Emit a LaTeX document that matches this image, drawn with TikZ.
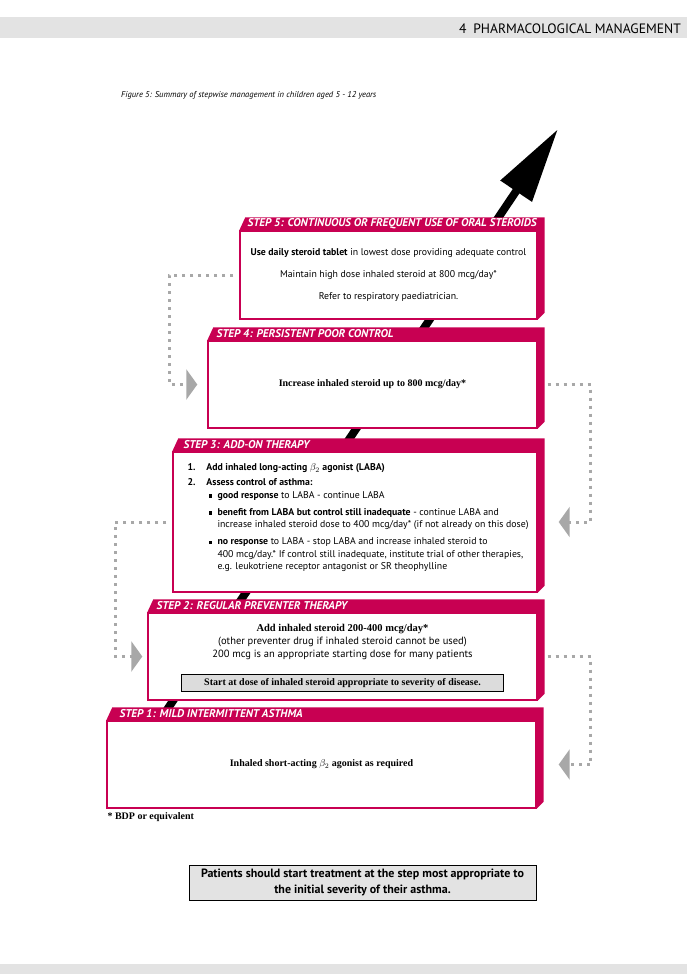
\documentclass[tikz,border=0pt]{standalone}
\usepackage{fontspec}
\setmainfont{PT Sans}
\newfontfamily\serifbold{Liberation Serif}
\usetikzlibrary{positioning,calc,arrows.meta}

\definecolor{stepred}{RGB}{200,0,82}
\definecolor{loopgray}{RGB}{168,168,168}
\definecolor{bargray}{RGB}{227,227,227}
\definecolor{notegray}{RGB}{220,220,220}

\newcommand{\boldtx}[1]{{\serifbold\bfseries #1}}
\newcommand{\sqbullet}{\rule[0.8pt]{3.6pt}{3.6pt}}

\begin{document}
\begin{tikzpicture}
    [x=1pt, y=-1pt,
     front/.style={draw=stepred, line width=1.4pt, fill=white, inner sep=0pt,
                   font=\fontsize{10}{12}\selectfont, align=center},
     heading/.style={anchor=west, text=white, inner sep=0pt,
                     font=\fontsize{11.3}{12}\selectfont\bfseries\itshape},
     body/.style={inner sep=0pt, font=\fontsize{9.8}{12.5}\selectfont},
     feedback/.style={draw=loopgray, line width=3pt, dash pattern=on 3pt off 5pt,
                      -{Triangle[length=11pt,width=30pt]}},
     notebox/.style={draw=black, line width=0.8pt, inner sep=0pt, align=center,
                     font=\fontsize{10}{12}\selectfont}]
    % Page
    \useasboundingbox [fill=white] (0, 0) rectangle (687, 974);
    \fill [bargray] (0, 17) rectangle (687, 38);
    \fill [bargray] (0, 964) rectangle (687, 974);
    \node (chapter) at (681, 28.5) [anchor=east, inner sep=0pt, font=\fontsize{13.6}{14}\selectfont]
        {4\enspace PHARMACOLOGICAL MANAGEMENT};
    \node (caption) at (121, 95) [anchor=west, inner sep=0pt, font=\fontsize{8.5}{10}\selectfont\itshape]
        {Figure 5: Summary of stepwise management in children aged 5 - 12 years};

    % Rising arrow, behind the steps
    \coordinate (tail) at (150, 735);
    \coordinate (tip) at (558, 129);
    \draw [line width=8pt, -{Triangle[length=75pt,width=36pt]}] (tail) -- (tip);

    % Steps
    \node (s1) at (321.5, 764.5) [front, minimum width=429, minimum height=87]
        {\boldtx{Inhaled short-acting $\beta_2$ agonist as required}};
    \node (s2) at (342.5, 656.5) [front, minimum width=389, minimum height=87] {};
    \node (s3) at (355, 522) [front, minimum width=364, minimum height=140] {};
    \node (s4) at (372.5, 384.5) [front, minimum width=329, minimum height=87]
        {\boldtx{Increase inhaled steroid up to 800 mcg/day*}};
    \node (s5) at (388.5, 275) [front, minimum width=297, minimum height=88,
                               font=\fontsize{9.8}{22}\selectfont]
        {\textbf{Use daily steroid tablet} in lowest dose providing adequate control\\
         Maintain high dose inhaled steroid at 800 mcg/day*\\
         Refer to respiratory paediatrician.};

    % Top and side faces
    \foreach \s in {s1, s2, s3, s4, s5}
        \fill [stepred] (\s.north west) -- ++(6, -13) -- ($(\s.north east) + (7, -13)$)
            -- ($(\s.south east) + (7, -7)$) -- (\s.south east) -- (\s.north east) -- cycle;

    \node (h1) at ($(s1.north west) + (13, -6.5)$) [heading] {STEP 1: MILD INTERMITTENT ASTHMA};
    \node (h2) at ($(s2.north west) + (9, -6.5)$) [heading] {STEP 2: REGULAR PREVENTER THERAPY};
    \node (h3) at ($(s3.north west) + (11, -6.5)$) [heading] {STEP 3: ADD-ON THERAPY};
    \node (h4) at ($(s4.north west) + (9, -6.5)$) [heading] {STEP 4: PERSISTENT POOR CONTROL};
    \node (h5) at ($(s5.north west) + (8, -6.5)$) [heading]
        {STEP 5: CONTINUOUS OR FREQUENT USE OF ORAL STEROIDS};

    % Step 2 text
    \node (s2note) [notebox, above=9pt of s2.south, minimum width=322, minimum height=17,
                    fill=notegray]
        {\boldtx{Start at dose of inhaled steroid appropriate to severity of disease.}};
    \node (s2body) [body, align=center, above=14pt of s2note, font=\fontsize{10.5}{13}\selectfont]
        {\boldtx{Add inhaled steroid 200-400 mcg/day*}\\
         (other preventer drug if inhaled steroid cannot be used)\\
         200 mcg is an appropriate starting dose for many patients};

    % Step 3 text
    \node (s3body) at ($(s3.west) + (15, -4)$) [body, anchor=west, align=left]
        {\makebox[19pt][l]{\textbf{1.}}\textbf{Add inhaled long-acting $\beta_2$ agonist (LABA)}\\[2.5pt]
         \makebox[19pt][l]{\textbf{2.}}\textbf{Assess control of asthma:}\\
         \hspace*{21pt}\makebox[9pt][l]{\sqbullet}\textbf{good response} to LABA - continue LABA\\[4.5pt]
         \hspace*{21pt}\makebox[9pt][l]{\sqbullet}\textbf{benefit from LABA but control still inadequate} - continue LABA and\\
         \hspace*{30pt}increase inhaled steroid dose to 400 mcg/day* (if not already on this dose)\\[4.5pt]
         \hspace*{21pt}\makebox[9pt][l]{\sqbullet}\textbf{no response} to LABA - stop LABA and increase inhaled steroid to\\
         \hspace*{30pt}400 mcg/day.* If control still inadequate, institute trial of other therapies,\\
         \hspace*{30pt}e.g. leukotriene receptor antagonist or SR theophylline};

    % Footnote and advice
    \node (footnote) at ($(s1.south west) + (1, 4)$) [anchor=north west, inner sep=0pt,
                                                     font=\fontsize{10}{12}\selectfont]
        {\boldtx{* BDP or equivalent}};
    \node (advice) at (362.5, 882.5) [notebox, fill=bargray, minimum width=347, minimum height=35,
                                     font=\fontsize{12}{16.5}\selectfont\bfseries]
        {Patients should start treatment at the step most appropriate to\\
         the initial severity of their asthma.};

    % Stepping up and down
    \draw [feedback] ($(s5.west) + (-6, 0)$) -- ++(-64, 0) |- ($(s4.west) + (-10, 0)$);
    \draw [feedback] ($(s3.west) + (-6, 0)$) -- ++(-51, 0) |- ($(s2.west) + (-5, 0)$);
    \draw [feedback] ($(s4.east) + (10, 0)$) -- ++(43, 0) |- ($(s3.east) + (21, 0)$);
    \draw [feedback] ($(s2.east) + (10, 0)$) -- ++(43, 0) |- ($(s1.east) + (22, 0)$);
\end{tikzpicture}
\end{document}
